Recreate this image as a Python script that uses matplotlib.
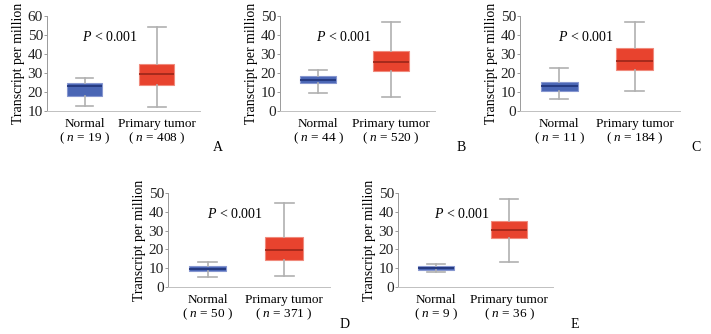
import matplotlib
matplotlib.use("Agg")
from matplotlib import pyplot as plt

plt.rcParams['font.family'] = ['Liberation Serif', 'DejaVu Serif']
plt.rcParams['mathtext.fontset'] = 'custom'
plt.rcParams['mathtext.rm'] = 'Liberation Serif'
plt.rcParams['mathtext.it'] = 'Liberation Serif:italic'

# one entry per panel: (normal, tumor) five-number summaries
panels = ["A", "B", "C", "D", "E"]
n_normal = [19, 44, 11, 50, 9]
n_tumor = [408, 520, 184, 371, 36]

normal_low = [12.5, 9.5, 6.5, 5.5, 8.0]
normal_q1 = [18.0, 14.5, 10.5, 8.5, 9.0]
normal_med = [23.0, 16.5, 13.0, 9.8, 10.0]
normal_q3 = [24.5, 18.5, 15.5, 11.0, 11.0]
normal_high = [27.5, 21.5, 22.5, 13.5, 12.0]

tumor_low = [12.0, 7.5, 10.5, 6.0, 13.5]
tumor_q1 = [23.5, 21.0, 21.5, 14.5, 26.0]
tumor_med = [29.5, 26.0, 26.5, 19.5, 30.5]
tumor_q3 = [35.0, 31.5, 33.0, 26.5, 35.0]
tumor_high = [54.0, 47.0, 47.0, 44.5, 47.0]

y_min = [10, 0, 0, 0, 0]
y_max = [60, 50, 50, 50, 50]

# axes rectangles in pixels: left, top, right, bottom
W, H = 711, 334
rects = [(47, 16, 200, 111), (280, 16, 435, 111), (520, 16, 680, 111),
         (168, 193, 330, 287), (398, 193, 553, 287)]
letter_pos = [(218, 148), (461, 148), (696, 148), (345, 324), (575, 324)]

fig = plt.figure(figsize=(W / 100, H / 100), dpi=100)

for i, name in enumerate(panels):
    l, t, r, b = rects[i]
    ax = fig.add_axes([l / W, 1 - b / H, (r - l) / W, (b - t) / H])
    stats = [
        dict(whislo=normal_low[i], q1=normal_q1[i], med=normal_med[i],
             q3=normal_q3[i], whishi=normal_high[i], fliers=[]),
        dict(whislo=tumor_low[i], q1=tumor_q1[i], med=tumor_med[i],
             q3=tumor_q3[i], whishi=tumor_high[i], fliers=[]),
    ]
    bp = ax.bxp(stats, positions=[1, 2], widths=0.49, patch_artist=True,
                showfliers=False,
                whiskerprops=dict(color='#b0b0b0', lw=1.2),
                capprops=dict(color='#b0b0b0', lw=1.2),
                medianprops=dict(lw=1.3))
    for box, fc, ec in zip(bp['boxes'], ['#4a66b5', '#e8432e'], ['#8797d0', '#f08a7c']):
        box.set_facecolor(fc)
        box.set_edgecolor(ec)
        box.set_linewidth(0.8)
    bp['medians'][0].set_color('#23377d')
    bp['medians'][1].set_color('#a1281b')

    ax.set_xlim(0.48, 2.6)
    ax.set_ylim(y_min[i], y_max[i])
    ax.set_yticks(range(y_min[i], y_max[i] + 1, 10))
    ax.set_xticks([1, 2])
    ax.set_xticklabels([
        "Normal\n( $\\it{n}$ = %d )" % n_normal[i],
        "Primary tumor\n( $\\it{n}$ = %d )" % n_tumor[i],
    ], fontsize=9.5, linespacing=1.1)
    ax.tick_params(axis='x', length=0, pad=5)
    ax.tick_params(axis='y', length=2, width=0.6, labelsize=11, pad=1,
                   color='#888888', labelcolor='#222222')
    for s in ['top', 'right']:
        ax.spines[s].set_visible(False)
    ax.spines['left'].set_color('#9a9a9a')
    ax.spines['bottom'].set_color('#c0c0c0')
    ax.spines['left'].set_linewidth(0.7)
    ax.spines['bottom'].set_linewidth(0.7)
    ax.set_ylabel("Transcript per million", fontsize=10, labelpad=2)
    ax.text(0.41, 0.78, "$\\it{P}$ < 0.001", transform=ax.transAxes,
            ha='center', va='center', fontsize=10)
    fig.text(letter_pos[i][0] / W, 1 - letter_pos[i][1] / H, name,
             ha='center', va='center', fontsize=10)

fig.savefig("out.png", dpi=100)
